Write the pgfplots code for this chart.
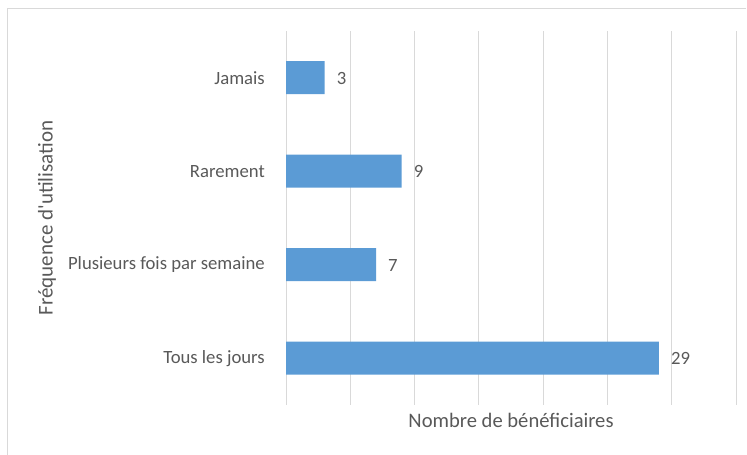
\documentclass[border=0pt]{standalone}
\usepackage{pgfplots}
\pgfplotsset{compat=1.18}
\usepackage{fontspec}
\setmainfont{Carlito}
\definecolor{txt}{HTML}{595959}
\definecolor{gridc}{HTML}{D9D9D9}
\definecolor{barc}{HTML}{5B9BD5}
\begin{document}
\begin{tikzpicture}[x=1pt,y=1pt]
\useasboundingbox (0,0) rectangle (747,455);
\draw[gridc, line width=1.5pt] (7.5,0) -- (7.5,446.5) -- (746,446.5);
\begin{axis}[
  at={(286pt,50pt)}, anchor=south west,
  scale only axis, width=450pt, height=374pt,
  xbar, bar width=33pt,
  xmin=0, xmax=35, ymin=-0.5, ymax=3.5,
  xtick={0,5,...,35}, xticklabels={},
  ytick={0,1,2,3},
  yticklabels={Tous les jours, Plusieurs fois par semaine, Rarement, Jamais},
  major tick length=0pt,
  axis line style={draw=none},
  xmajorgrids, grid style={gridc, line width=1pt},
  tick label style={font=\fontsize{18.7}{20}\selectfont, text=txt},
  yticklabel style={inner sep=0pt, anchor=east, xshift=-21pt},
  /pgf/number format/assume math mode=true,
  xlabel={Nombre de bénéficiaires},
  ylabel={Fréquence d\textquotesingle utilisation},
  every axis x label/.style={at={(axis description cs:0.5,0)}, anchor=north, inner sep=0pt, yshift=-8pt, font=\fontsize{20.6}{22}\selectfont, text=txt},
  every axis y label/.style={at={([xshift=-239pt]axis description cs:0,0.5)}, rotate=90, anchor=center, inner sep=0pt, font=\fontsize{21}{22}\selectfont, text=txt},
  nodes near coords,
  every node near coord/.append style={anchor=west, inner sep=0pt, xshift=12pt, yshift=-0.5pt, font=\fontsize{18.7}{20}\selectfont, text=txt},
]
\addplot[fill=barc, draw=none] coordinates {(29,0) (7,1) (9,2) (3,3)};
\end{axis}
\end{tikzpicture}
\end{document}
